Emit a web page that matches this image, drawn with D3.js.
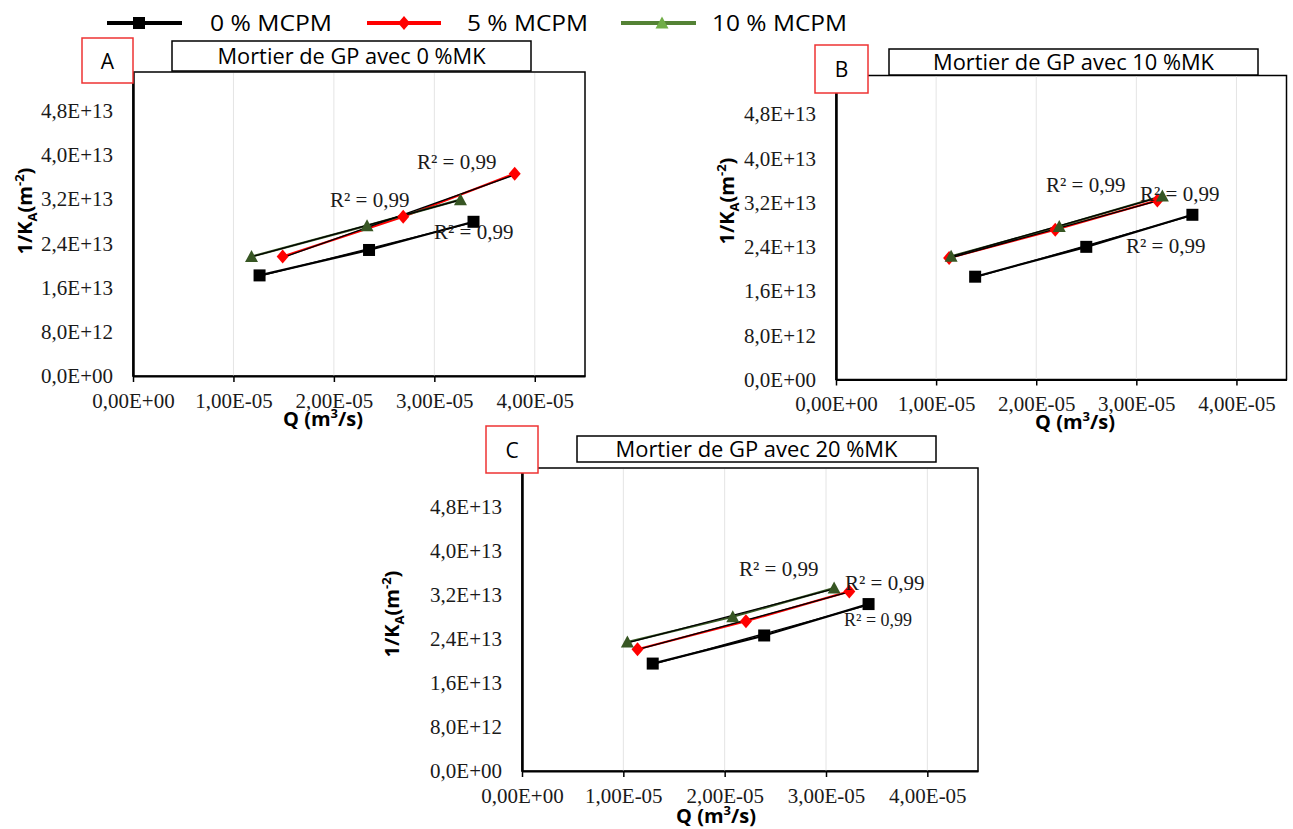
<!DOCTYPE html>
<html><head><meta charset="utf-8">
<script src="https://cdn.jsdelivr.net/npm/d3@7"></script>
<style>body{margin:0;background:#fff}</style></head>
<body><svg id="c" width="1293" height="829"></svg>
<script>
// ---------- data ----------
const seriesNames = ["0 % MCPM", "5 % MCPM", "10 % MCPM"];
const panelLetters = ["A", "B", "C"];
const panelTitles = ["Mortier de GP avec 0 %MK", "Mortier de GP avec 10 %MK", "Mortier de GP avec 20 %MK"];
const xTickValues = [0, 1e-5, 2e-5, 3e-5, 4e-5];
const xTickLabels = ["0,00E+00", "1,00E-05", "2,00E-05", "3,00E-05", "4,00E-05"];
const yTickValues = [0, 8e12, 1.6e13, 2.4e13, 3.2e13, 4.0e13, 4.8e13];
const yTickLabels = ["0,0E+00", "8,0E+12", "1,6E+13", "2,4E+13", "3,2E+13", "4,0E+13", "4,8E+13"];
const xDomain = [0, 4.5e-5];
const yDomain = [0, 5.5e13];
const r2Text = "R² = 0,99";
// Panel A (0 %MK)
const qA0 = [1.26e-5, 2.35e-5, 3.39e-5],  kA0 = [1.82e13, 2.28e13, 2.79e13];
const qA5 = [1.49e-5, 2.69e-5, 3.80e-5],  kA5 = [2.16e13, 2.88e13, 3.66e13];
const qA10 = [1.18e-5, 2.33e-5, 3.26e-5], kA10 = [2.16e13, 2.72e13, 3.19e13];
// Panel B (10 %MK)
const qB0 = [1.39e-5, 2.50e-5, 3.56e-5],  kB0 = [1.86e13, 2.40e13, 2.98e13];
const qB5 = [1.13e-5, 2.19e-5, 3.21e-5],  kB5 = [2.20e13, 2.71e13, 3.24e13];
const qB10 = [1.15e-5, 2.23e-5, 3.26e-5], kB10 = [2.23e13, 2.77e13, 3.32e13];
// Panel C (20 %MK)
const qC0 = [1.29e-5, 2.39e-5, 3.42e-5],  kC0 = [1.95e13, 2.46e13, 3.03e13];
const qC5 = [1.14e-5, 2.21e-5, 3.23e-5],  kC5 = [2.21e13, 2.72e13, 3.26e13];
const qC10 = [1.04e-5, 2.08e-5, 3.08e-5], kC10 = [2.34e13, 2.80e13, 3.32e13];

// ---------- styles / layout ----------
const lineColors = ["#000000", "#ff0000", "#375623"];
const markerColors = ["#000000", "#ff0000", "#375623"];
const legendLineColors = ["#000000", "#ff0000", "#548235"];
const legendMarkerColors = ["#000000", "#ff0000", "#70ad47"];
const shapes = ["square", "diamond", "triangle"];

const panelData = [
  [[qA0, kA0], [qA5, kA5], [qA10, kA10]],
  [[qB0, kB0], [qB5, kB5], [qB10, kB10]],
  [[qC0, kC0], [qC5, kC5], [qC10, kC10]]
];
const layout = [
  {left:133, right:585, top:72, bottom:376, letterBox:[82,38,51,45], titleBox:[172,41,359,30], titleW:268,
   yTitle:[25,211], xTitle:[323,426], r2:[[417,169,21],[330,207,21],[434,239,21]]},
  {left:836, right:1286.5, top:75.5, bottom:379.5, letterBox:[815,45,53,48], titleBox:[889,49,369,26], titleW:281,
   yTitle:[727,201], xTitle:[1075,429], r2:[[1046,192,21],[1140,201,21],[1126,253,21]]},
  {left:522, right:978, top:468, bottom:771, letterBox:[486,426,52,47], titleBox:[577,436,359,26], titleW:282,
   yTitle:[392,614], xTitle:[716,823], r2:[[739,576,21],[845,590,21],[844,626,18]]}
];

const svg = d3.select("#c");
svg.append("rect").attr("width",1293).attr("height",829).attr("fill","#fff");

function marker(g, shape, x, y, color) {
  if (shape === "square") {
    g.append("rect").attr("x", x-6).attr("y", y-6).attr("width", 12).attr("height", 12).attr("fill", color);
  } else if (shape === "diamond") {
    g.append("path").attr("d", `M${x},${y-7}L${x+6},${y}L${x},${y+7}L${x-6},${y}Z`).attr("fill", color);
  } else {
    g.append("path").attr("d", `M${x},${y-6.5}L${x+6.5},${y+5.5}L${x-6.5},${y+5.5}Z`).attr("fill", color);
  }
}

function fitText(sel, w) {
  sel.attr("textLength", w).attr("lengthAdjust", "spacingAndGlyphs");
}

layout.forEach((L, pi) => {
  const g = svg.append("g");
  const x = d3.scaleLinear().domain(xDomain).range([L.left, L.right]);
  const y = d3.scaleLinear().domain(yDomain).range([L.bottom, L.top]);

  // plot border
  g.append("rect").attr("x", L.left).attr("y", L.top)
    .attr("width", L.right - L.left).attr("height", L.bottom - L.top)
    .attr("fill", "#fff").attr("stroke", "#000").attr("stroke-width", 1.5);

  // vertical gridlines
  g.selectAll(".grid").data(xTickValues.slice(1)).enter().append("line")
    .attr("x1", d => x(d)).attr("x2", d => x(d)).attr("y1", L.top + 1).attr("y2", L.bottom)
    .attr("stroke", "#e4e4e4").attr("stroke-width", 1);

  // x axis
  const xa = g.append("g").attr("transform", `translate(0,${L.bottom})`)
    .call(d3.axisBottom(x).tickValues(xTickValues).tickFormat((d,i) => xTickLabels[i]).tickSize(6).tickSizeOuter(0).tickPadding(11));
  xa.select(".domain").attr("stroke", "#000").attr("stroke-width", 2);
  xa.selectAll(".tick line").attr("stroke", "#000").attr("stroke-width", 1.5);
  xa.selectAll("text").attr("font-family", "'Liberation Serif', 'Times New Roman', serif")
    .attr("font-size", 21).attr("fill", "#1a1a1a");

  // y axis
  const ya = g.append("g").attr("transform", `translate(${L.left},0)`)
    .call(d3.axisLeft(y).tickValues(yTickValues).tickFormat((d,i) => yTickLabels[i]).tickSize(0).tickSizeOuter(0).tickPadding(20));
  ya.select(".domain").attr("stroke", "#000").attr("stroke-width", 2.5);
  ya.selectAll("text").attr("font-family", "'Liberation Serif', 'Times New Roman', serif")
    .attr("font-size", 21).attr("fill", "#1a1a1a");

  // series lines
  const data = panelData[pi];
  const lineGen = d3.line().x(d => x(d[0])).y(d => y(d[1]));
  data.forEach(([qs, ks], si) => {
    const pts = qs.map((q, i) => [q, ks[i]]);
    g.append("path").attr("d", lineGen(pts)).attr("fill", "none")
      .attr("stroke", lineColors[si]).attr("stroke-width", 2.2);
  });
  // linear trendlines (black)
  data.forEach(([qs, ks]) => {
    const n = qs.length, mx = d3.mean(qs), my = d3.mean(ks);
    let sxy = 0, sxx = 0;
    for (let i = 0; i < n; i++) { sxy += (qs[i]-mx)*(ks[i]-my); sxx += (qs[i]-mx)**2; }
    const b = sxy / sxx, a = my - b*mx;
    const x0 = d3.min(qs), x1 = d3.max(qs);
    g.append("line").attr("x1", x(x0)).attr("y1", y(a + b*x0)).attr("x2", x(x1)).attr("y2", y(a + b*x1))
      .attr("stroke", "#000").attr("stroke-width", 1.3);
  });
  // markers
  data.forEach(([qs, ks], si) => {
    qs.forEach((q, i) => marker(g, shapes[si], x(q), y(ks[i]), markerColors[si]));
  });

  // R² labels
  L.r2.forEach(([lx, ly, fs]) => {
    g.append("text").attr("x", lx).attr("y", ly).text(r2Text)
      .attr("font-family", "'Liberation Serif', 'Times New Roman', serif").attr("font-size", fs).attr("fill", "#1a1a1a");
  });

  // title box
  const [tbx, tby, tbw, tbh] = L.titleBox;
  g.append("rect").attr("x", tbx).attr("y", tby).attr("width", tbw).attr("height", tbh)
    .attr("fill", "#fff").attr("stroke", "#000").attr("stroke-width", 1.5);
  const tt = g.append("text").attr("x", tbx + tbw/2).attr("y", tby + tbh/2 + 7.5).attr("text-anchor", "middle")
    .attr("font-family", "'Open Sans', 'Noto Sans', sans-serif").attr("font-size", 21).attr("fill", "#000")
    .text(panelTitles[pi]);
  fitText(tt, L.titleW);

  // letter box
  const [lbx, lby, lbw, lbh] = L.letterBox;
  g.append("rect").attr("x", lbx).attr("y", lby).attr("width", lbw).attr("height", lbh)
    .attr("fill", "#fff").attr("stroke", "#ee3333").attr("stroke-width", 1.5);
  g.append("text").attr("x", lbx + lbw/2).attr("y", lby + lbh/2 + 8).attr("text-anchor", "middle")
    .attr("font-family", "'Open Sans', 'Noto Sans', sans-serif").attr("font-size", 21).attr("fill", "#000")
    .text(panelLetters[pi]);

  // y title
  const yt = g.append("text").attr("transform", `translate(${L.yTitle[0] + 7},${L.yTitle[1]}) rotate(-90)`)
    .attr("text-anchor", "middle").attr("font-family", "'Open Sans', 'Noto Sans', sans-serif")
    .attr("font-weight", 700).attr("font-size", 20).attr("fill", "#000");
  yt.append("tspan").text("1/K");
  yt.append("tspan").attr("dy", 5).attr("font-size", 13).text("A");
  yt.append("tspan").attr("dy", -5).text("(m");
  yt.append("tspan").attr("dy", -8).attr("font-size", 13).text("-2");
  yt.append("tspan").attr("dy", 8).text(")");

  // x title
  const xt = g.append("text").attr("x", L.xTitle[0]).attr("y", L.xTitle[1]).attr("text-anchor", "middle")
    .attr("font-family", "'Open Sans', 'Noto Sans', sans-serif").attr("font-weight", 700)
    .attr("font-size", 20).attr("fill", "#000");
  xt.append("tspan").text("Q (m");
  xt.append("tspan").attr("dy", -8).attr("font-size", 13).text("3");
  xt.append("tspan").attr("dy", 8).text("/s)");
});

// ---------- legend ----------
const legendItems = [
  {x1:107, x2:182, mx:139, tx:210, tw:122},
  {x1:367, x2:441, mx:404, tx:467, tw:121},
  {x1:621, x2:696, mx:662, tx:712, tw:135}
];
const lg = svg.append("g");
legendItems.forEach((it, i) => {
  lg.append("line").attr("x1", it.x1).attr("x2", it.x2).attr("y1", 23).attr("y2", 23)
    .attr("stroke", legendLineColors[i]).attr("stroke-width", 4);
  marker(lg, shapes[i], it.mx, 23, legendMarkerColors[i]);
  const t = lg.append("text").attr("x", it.tx).attr("y", 31).text(seriesNames[i])
    .attr("font-family", "'Open Sans', 'Noto Sans', sans-serif").attr("font-size", 22).attr("fill", "#000");
  fitText(t, it.tw);
});
</script>
</body></html>
